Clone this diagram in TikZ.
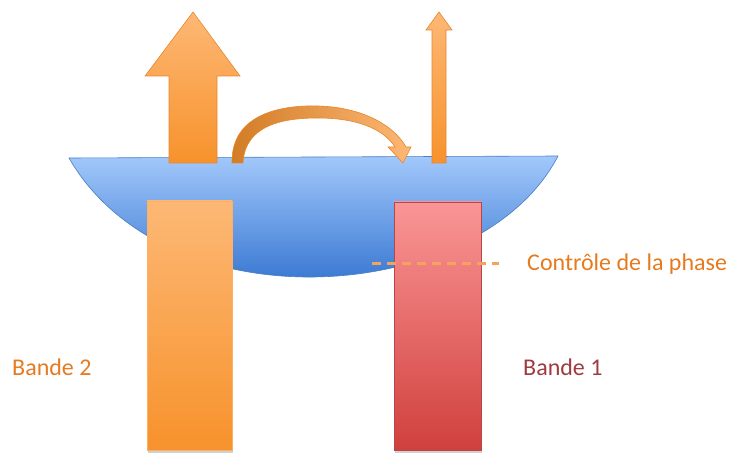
\documentclass[tikz,border=0pt]{standalone}
\usepackage{fontspec}
\setmainfont{Carlito}
\begin{document}
\definecolor{orL}{HTML}{FDB875}
\definecolor{orD}{HTML}{F7922C}
\definecolor{orB}{HTML}{E8862C}
\definecolor{pkT}{HTML}{FA9696}
\definecolor{rdB}{HTML}{D0403D}
\definecolor{rdE}{HTML}{B8454A}
\definecolor{blT}{HTML}{A2C8FB}
\definecolor{blB}{HTML}{3C7AD3}
\definecolor{blE}{HTML}{4A7EC0}
\definecolor{txO}{HTML}{E77A1F}
\definecolor{txR}{HTML}{9E3B3E}
\definecolor{dsh}{HTML}{F4A35E}
\begin{tikzpicture}[x=1pt,y=-1pt,
  lens/.style={draw=blE,line width=0.6pt,top color=blT,bottom color=blB},
  orbar/.style={draw=orL!80!orD,line width=0.5pt,top color=orL,bottom color=orD},
  rdbar/.style={draw=rdE,line width=0.6pt,top color=pkT,bottom color=rdB},
  orarrow/.style={draw=orB,line width=0.6pt,top color=orL,bottom color=orD},
  lbl/.style={font=\fontsize{24}{28}\selectfont,inner sep=0pt,anchor=west}]
\useasboundingbox (0,0) rectangle (735,454);
% lens
\path[lens] (69,158) -- (558,156)
  .. controls (520,230) and (420,276) .. (313,277)
  .. controls (200,278) and (110,230) .. cycle;
% bars with soft bottom shadow
\fill[black!18] (148,203) rectangle (233,453);
\fill[black!18] (395,204) rectangle (482,453);
\path[orbar] (147,201) rectangle (232,450);
\path[rdbar] (394,202) rectangle (481,450);
% big arrow
\path[orarrow] (169,163) -- (169,76) -- (145,76) -- (193,12) -- (240,76) -- (217,76) -- (217,163) -- cycle;
% thin arrow
\path[orarrow] (432,163) -- (432,30) -- (426,30) -- (439,12) -- (452,30) -- (446,30) -- (446,163) -- cycle;
% curved arrow
\path[draw=orB,line width=0.6pt,left color=orD!85!black,right color=orL] (232,163)
  .. controls (231,112) and (285,105) .. (318,106)
  .. controls (360,107) and (393,124) .. (406,147)
  -- (411,147) -- (403,163) -- (388,147) -- (395,147)
  .. controls (383,128) and (355,118) .. (318,118)
  .. controls (285,118) and (245,124) .. (243,163) -- cycle;
% dashed line
\coordinate (d1) at (372,263);
\coordinate (d2) at (499,263);
\draw[dsh,line width=3pt,dash pattern=on 9pt off 6pt] (d1) -- (d2);
\node[lbl,text=txO] (ctrl) at (527,264) {Contrôle de la phase};
\node[lbl,text=txO] (b2) at (12,367) {Bande 2};
\node[lbl,text=txR] (b1) at (523,367) {Bande 1};
\end{tikzpicture}
\end{document}
